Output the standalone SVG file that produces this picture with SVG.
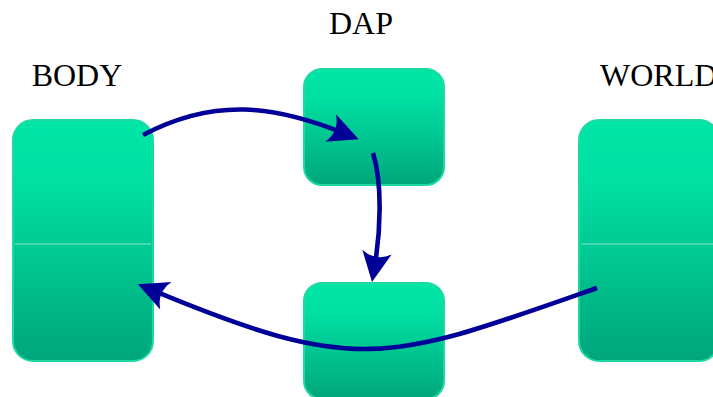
<svg xmlns="http://www.w3.org/2000/svg" width="713" height="397" viewBox="0 0 713 397">
<style>
.box{fill:url(#g);stroke:#1fd9a5;stroke-width:2}
.div{stroke:#8ee6c9;stroke-width:1}
.lbl{font-family:"Liberation Serif","Times New Roman",serif;font-size:32px;fill:#000}
.arr{fill:none;stroke:#000099;stroke-width:4.6;marker-end:url(#ah)}
</style>
<defs>
<linearGradient id="g" x1="0" y1="0" x2="0" y2="1">
<stop offset="0" stop-color="#00e6a6"/>
<stop offset="0.25" stop-color="#00e0a2"/>
<stop offset="1" stop-color="#00a67b"/>
</linearGradient>
<marker id="ah" markerUnits="userSpaceOnUse" markerWidth="40" markerHeight="40" viewBox="-15 -15 35 30" refX="0" refY="0" orient="auto" overflow="visible">
<path d="M16,0 L-10.5,-13 Q-2,0 -10.5,13 Z" fill="#000099"/>
</marker>
</defs>
<g id="body">
<rect class="box" x="13" y="120" width="140" height="241" rx="20"/>
<line class="div" x1="15" y1="244" x2="151" y2="244"/>
<text class="lbl" x="77" y="86" text-anchor="middle">BODY</text>
</g>
<g id="dap">
<rect class="box" x="304" y="69" width="140" height="116" rx="18"/>
<text class="lbl" x="361" y="34" text-anchor="middle">DAP</text>
</g>
<g id="bottom">
<rect class="box" x="304" y="283" width="140" height="116" rx="18"/>
</g>
<g id="world">
<rect class="box" x="579" y="120" width="140" height="241" rx="20"/>
<line class="div" x1="581" y1="244" x2="717" y2="244"/>
<text class="lbl" x="600" y="86">WORLD</text>
</g>
<g id="connectors">
<path class="arr" d="M143,135 C215,97 275,106 341.7,132.4"/>
<path class="arr" d="M373,153 C383,185 380,234 375,264"/>
<path class="arr" d="M597,288 C389,361 359,376 154.8,291.2"/>
</g>
</svg>
